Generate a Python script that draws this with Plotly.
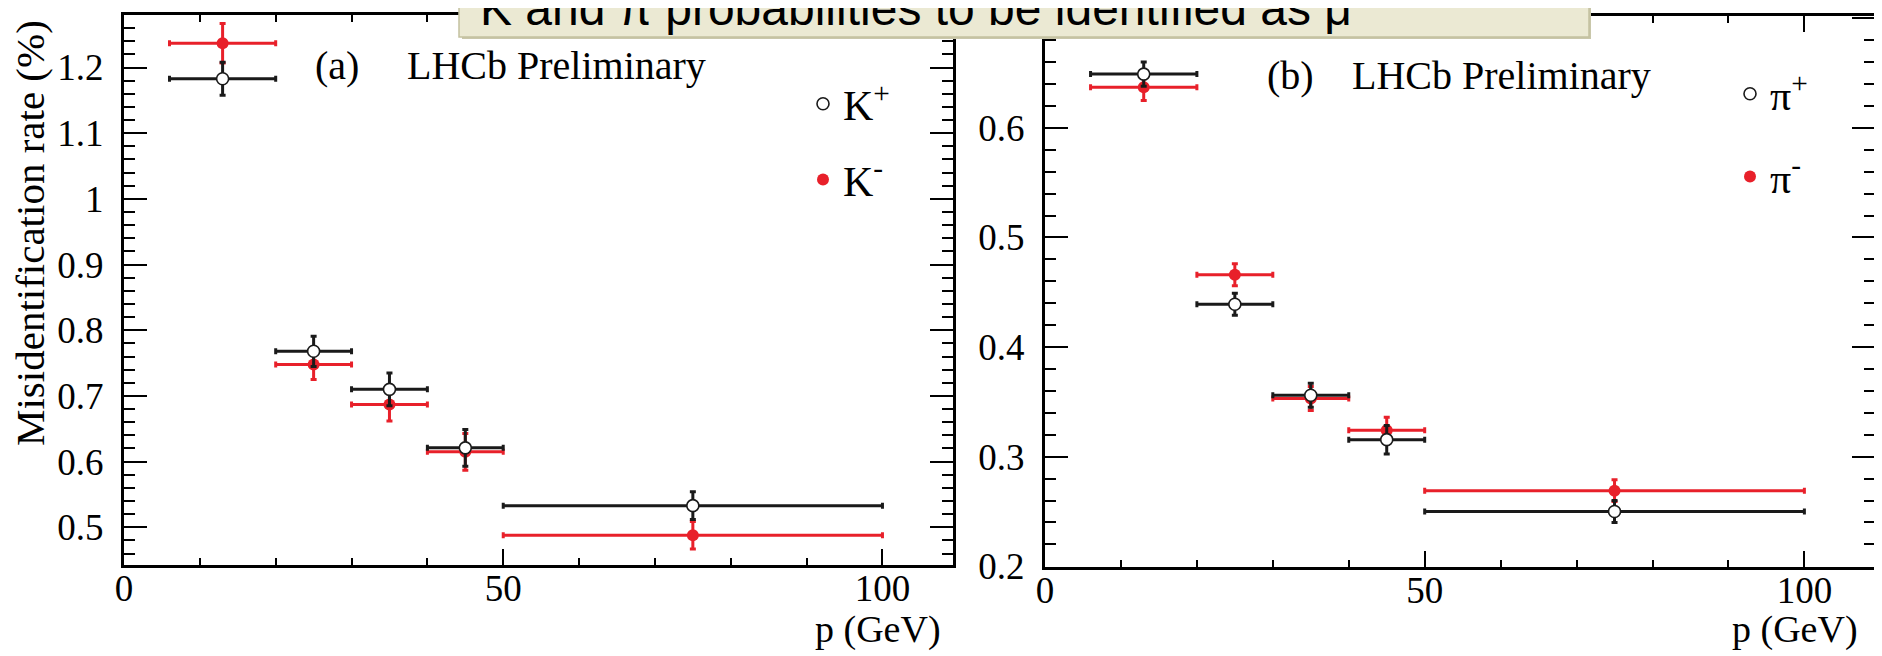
import plotly.graph_objects as go

# ---------------- data ----------------
p_center = [13, 25, 35, 45, 75]
p_low = [6, 20, 30, 40, 50]
p_high = [20, 30, 40, 50, 100]

k_plus = [1.183, 0.768, 0.710, 0.621, 0.533]
k_plus_err = [0.025, 0.023, 0.025, 0.028, 0.021]
k_minus = [1.237, 0.748, 0.687, 0.615, 0.488]
k_minus_err = [0.030, 0.023, 0.025, 0.028, 0.021]

pi_plus = [0.649, 0.439, 0.356, 0.3155, 0.250]
pi_plus_err = [0.011, 0.010, 0.011, 0.013, 0.010]
pi_minus = [0.637, 0.466, 0.353, 0.324, 0.269]
pi_minus_err = [0.012, 0.010, 0.011, 0.012, 0.010]

x_ticks = [0, 50, 100]

W, H = 1882, 656
OFF = 8  # page body margin of the browser
SERIF = "Liberation Serif, Times New Roman, serif"
SANS = "Liberation Sans, Arial, sans-serif"
RED = "#E8202A"
BLACK = "#1a1a1a"

err_hi = [h - c for h, c in zip(p_high, p_center)]
err_lo = [c - l for c, l in zip(p_center, p_low)]


def px(x):
    return (x - OFF) / W


def py(y):
    return 1 - (y - OFF) / H


def series(y, yerr, color, filled, name, xa, ya, legend, rank):
    return go.Scatter(
        x=p_center, y=y, mode="markers", name=name,
        xaxis=xa, yaxis=ya, legend=legend, legendrank=rank,
        legendgroup=name,
        marker=dict(size=12, color=color if filled else "white",
                    line=dict(color=color, width=0 if filled else 1.6),
                    symbol="circle"),
        error_x=dict(type="data", array=err_hi, arrayminus=err_lo,
                     color=color, thickness=3, width=3),
        error_y=dict(type="data", array=yerr, color=color,
                     thickness=3, width=3),
    )


fig = go.Figure()
# red first so open black markers sit on top
fig.add_trace(series(k_minus, k_minus_err, RED, True, "K<sup>-</sup>", "x", "y", "legend", 2))
fig.add_trace(series(k_plus, k_plus_err, BLACK, False, "K<sup>+</sup>", "x", "y", "legend", 1))
fig.add_trace(series(pi_minus, pi_minus_err, RED, True, "π<sup>-</sup>", "x2", "y2", "legend2", 2))
fig.add_trace(series(pi_plus, pi_plus_err, BLACK, False, "π<sup>+</sup>", "x2", "y2", "legend2", 1))

axis_common = dict(
    showline=True, linewidth=3, linecolor="black", mirror="ticks",
    ticks="inside", tickwidth=2, tickcolor="black",
    showgrid=False, zeroline=False, automargin=False,
    tickfont=dict(family=SERIF, size=37, color="black"),
)

fig.update_layout(
    template="none",
    width=W, height=H,
    margin=dict(l=0, r=0, t=0, b=0, pad=0, autoexpand=False),
    paper_bgcolor="white", plot_bgcolor="white",
    showlegend=True,
    xaxis=dict(axis_common, domain=[px(124), px(953)], range=[0, 109.3],
               anchor="y", tickvals=x_ticks, ticklen=16, ticklabelstandoff=-11,
               minor=dict(dtick=10, tick0=0, ticks="inside", ticklen=7,
                          tickwidth=2, tickcolor="black")),
    yaxis=dict(axis_common, domain=[py(565), py(15)], range=[0.4426, 1.280],
               anchor="x", dtick=0.1, tick0=0, ticklen=23, ticklabelstandoff=10,
               minor=dict(dtick=0.02, tick0=0, ticks="inside", ticklen=11,
                          tickwidth=2, tickcolor="black")),
    xaxis2=dict(axis_common, domain=[px(1045), px(1875)], range=[0, 109.3],
                anchor="y2", tickvals=x_ticks, ticklen=16, ticklabelstandoff=-11,
                minor=dict(dtick=10, tick0=0, ticks="inside", ticklen=7,
                           tickwidth=2, tickcolor="black")),
    yaxis2=dict(axis_common, domain=[py(566.5), py(16)], range=[0.1998, 0.702],
                anchor="x2", dtick=0.1, tick0=0, ticklen=23, ticklabelstandoff=10,
                minor=dict(dtick=0.02, tick0=0, ticks="inside", ticklen=11,
                           tickwidth=2, tickcolor="black")),
    legend=dict(x=px(803), y=py(70), xanchor="left", yanchor="top",
                bgcolor="rgba(0,0,0,0)", font=dict(family=SERIF, size=42, color="black"),
                tracegroupgap=18, traceorder="grouped", itemwidth=30),
    legend2=dict(x=px(1730), y=py(60), xanchor="left", yanchor="top",
                 bgcolor="rgba(0,0,0,0)", font=dict(family=SERIF, size=42, color="black"),
                 tracegroupgap=25, traceorder="grouped", itemwidth=30),
)

annotations = [
    # axis titles
    dict(text="Misidentification rate (%)", x=px(30), y=py(233), textangle=-90,
         font=dict(family=SERIF, size=41, color="black")),
    dict(text="p (GeV)", x=px(943), y=py(629), xanchor="right",
         font=dict(family=SERIF, size=38, color="black")),
    dict(text="p (GeV)", x=px(1860), y=py(629), xanchor="right",
         font=dict(family=SERIF, size=38, color="black")),
    # panel labels
    dict(text="(a)", x=px(313), y=py(66), xanchor="left",
         font=dict(family=SERIF, size=40, color="black")),
    dict(text="LHCb Preliminary", x=px(405), y=py(66), xanchor="left",
         font=dict(family=SERIF, size=40, color="black")),
    dict(text="(b)", x=px(1265), y=py(76), xanchor="left",
         font=dict(family=SERIF, size=40, color="black")),
    dict(text="LHCb Preliminary", x=px(1350), y=py(76), xanchor="left",
         font=dict(family=SERIF, size=40, color="black")),
    # slide title, clipped at the top of the picture
    dict(text="K and π probabilities to be identified as μ", x=px(478), y=py(9),
         xanchor="left", yanchor="middle",
         font=dict(family=SANS, size=48, color="black")),
]
for a in annotations:
    a.setdefault("xanchor", "center")
    a.setdefault("yanchor", "middle")
    a.update(xref="paper", yref="paper", showarrow=False)
fig.update_layout(annotations=annotations)

fig.update_layout(shapes=[
    dict(type="rect", xref="paper", yref="paper",
         x0=px(462), x1=px(1591), y0=py(39), y1=py(-20),
         fillcolor="#C9C7AA", line=dict(width=0), layer="above"),
    dict(type="rect", xref="paper", yref="paper",
         x0=px(459), x1=px(1589), y0=py(37), y1=py(-20),
         fillcolor="#EBE9D3", line=dict(color="#C3C1A0", width=1.5), layer="above"),
])

fig.write_html("out.html")
